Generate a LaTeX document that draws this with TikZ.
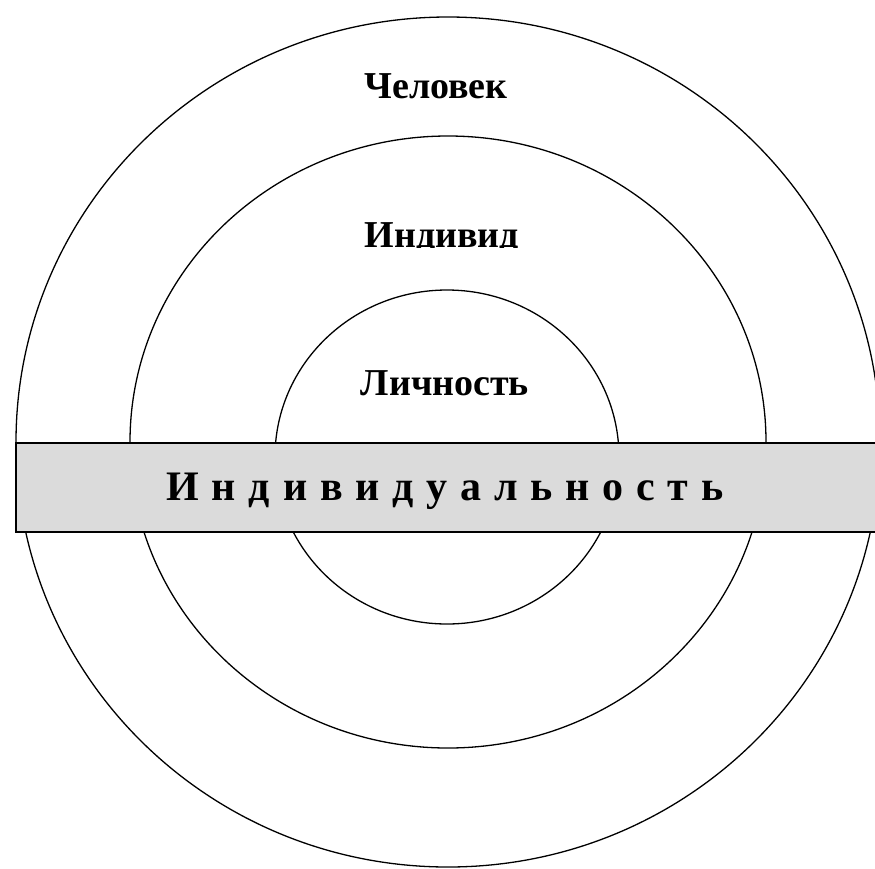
\documentclass[tikz,border=0pt]{standalone}
\usepackage{fontspec}
\setmainfont{Liberation Serif}
\newfontfamily\bandfont[WordSpace=1.22]{Liberation Serif}
\tikzset{
  ring/.style={draw=black, line width=1.3pt},
  band/.style={draw=black, line width=1.7pt, fill=gray!28},
  lbl/.style={font=\fontsize{38}{40}\selectfont\bfseries, anchor=base, inner sep=0pt},
  bandlbl/.style={font=\bandfont\fontsize{42}{44}\selectfont\bfseries, anchor=base, inner sep=0pt}
}
\begin{document}
\begin{tikzpicture}[x=1pt, y=-1pt]
\useasboundingbox (0,0) rectangle (875,868);
\begin{scope}
\clip (0,0) rectangle (875,868);
\draw[ring] (448,442) ellipse [x radius=432, y radius=425];
\draw[ring] (448,442) ellipse [x radius=318, y radius=306];
\draw[ring] (447,457) ellipse [x radius=172, y radius=167];
\node[band, minimum width=880pt, minimum height=89pt, anchor=north west, inner sep=0pt] (bar) at (15,442) {};
\end{scope}
\node[lbl] (chel) at (436,98) {Человек};
\begin{scope}
\clip (300,200) rectangle (600,247.5);
\node[lbl] (ind) at (442,247) {Индивид};
\end{scope}
\node[lbl] (lich) at (445,395) {Личность};
\node[bandlbl] (indiv) at (445,500) {И н д и в и д у а л ь н о с т ь};
\end{tikzpicture}
\end{document}
